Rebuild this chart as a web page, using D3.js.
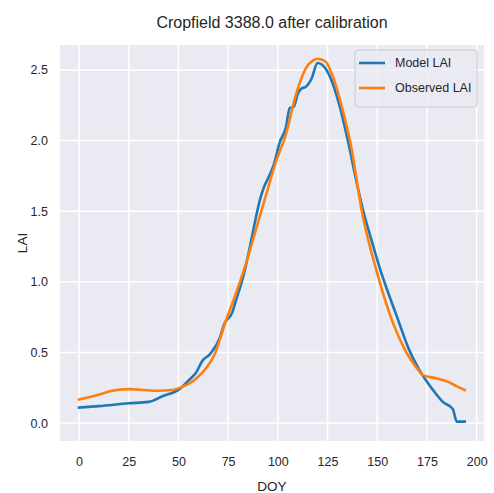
<!DOCTYPE html>
<html>
<head>
<meta charset="utf-8">
<script src="https://cdn.jsdelivr.net/npm/d3@7"></script>
<style>
    body { margin: 0; background: #ffffff; }
    svg text { font-family: "Liberation Sans", Arial, sans-serif; fill: #262626; }
</style>
</head>
<body>
<div id="chart"></div>
<script>
// values
var modelDoy = [0, 10, 25, 35, 42, 51, 55, 59, 62, 66, 71, 73, 77, 79, 83, 86, 88, 91, 93, 95,
                98, 101, 104, 106, 108, 110, 112, 114, 117, 120, 124, 126, 131, 136, 140, 143,
                147, 151, 160, 166, 171, 178, 183, 188, 190, 194];
var modelLai = [0.11, 0.12, 0.14, 0.15, 0.19, 0.245, 0.30, 0.36, 0.44, 0.49, 0.61, 0.70, 0.78, 0.87,
                1.06, 1.25, 1.39, 1.58, 1.67, 1.73, 1.83, 1.99, 2.09, 2.23, 2.24, 2.33, 2.37, 2.38,
                2.44, 2.55, 2.51, 2.46, 2.25, 1.95, 1.68, 1.50, 1.30, 1.11, 0.75, 0.52, 0.38, 0.235,
                0.15, 0.10, 0.01, 0.01];

var obsDoy = [0, 12, 16, 25, 39, 47, 52, 59, 64, 68, 74, 79, 84, 89, 94, 99, 104, 109, 114,
              118, 120, 124, 127, 132, 137, 142, 150, 158, 164, 170, 173, 180, 186, 190, 194];
var obsLai = [0.167, 0.21, 0.227, 0.24, 0.229, 0.234, 0.257, 0.316, 0.39, 0.48, 0.73, 0.92, 1.13,
              1.37, 1.61, 1.85, 2.04, 2.32, 2.51, 2.57, 2.58, 2.56, 2.48, 2.25, 1.95, 1.52, 1.06,
              0.706, 0.517, 0.387, 0.34, 0.316, 0.29, 0.26, 0.234];

var xTicks = [0, 25, 50, 75, 100, 125, 150, 175, 200];
var yTicks = [0.0, 0.5, 1.0, 1.5, 2.0, 2.5];
var seriesNames = ["Model LAI", "Observed LAI"];
var seriesColors = ["#1f77b4", "#ff7f0e"];

function drawChart() {
    var width = 494,
        height = 493,
        margin = {top: 45, right: 10, bottom: 52, left: 60};

    var svg = d3.select("#chart")
                .append("svg")
                .attr("width", width)
                .attr("height", height);

    var x = d3.scaleLinear()
              .domain([-9.56, 203.7])
              .range([margin.left, width - margin.right]);

    var y = d3.scaleLinear()
              .domain([-0.127, 2.677])
              .range([height - margin.bottom, margin.top]);

    // axes background
    svg.append("rect")
       .attr("x", margin.left)
       .attr("y", margin.top)
       .attr("width", width - margin.left - margin.right)
       .attr("height", height - margin.top - margin.bottom)
       .attr("fill", "#eaeaf2");

    // grid
    svg.append("g")
       .selectAll("line")
       .data(xTicks)
       .enter()
       .append("line")
       .attr("x1", function(d) { return x(d); })
       .attr("x2", function(d) { return x(d); })
       .attr("y1", margin.top)
       .attr("y2", height - margin.bottom)
       .attr("stroke", "#ffffff")
       .attr("stroke-width", 1.5);

    svg.append("g")
       .selectAll("line")
       .data(yTicks)
       .enter()
       .append("line")
       .attr("y1", function(d) { return y(d); })
       .attr("y2", function(d) { return y(d); })
       .attr("x1", margin.left)
       .attr("x2", width - margin.right)
       .attr("stroke", "#ffffff")
       .attr("stroke-width", 1.5);

    // axes (labels only, seaborn style)
    var xAxis = svg.append("g")
       .attr("transform", "translate(0," + (height - margin.bottom) + ")")
       .call(d3.axisBottom(x).tickValues(xTicks).tickSize(0).tickPadding(16)
              .tickFormat(d3.format("d")));
    xAxis.select(".domain").remove();

    var yAxis = svg.append("g")
       .attr("transform", "translate(" + margin.left + ",0)")
       .call(d3.axisLeft(y).tickValues(yTicks).tickSize(0).tickPadding(12)
              .tickFormat(d3.format(".1f")));
    yAxis.select(".domain").remove();

    svg.selectAll(".tick text")
       .attr("font-size", 12.5)
       .attr("font-family", "Liberation Sans, Arial, sans-serif")
       .attr("fill", "#262626");

    // lines
    var line = d3.line()
                 .x(function(d) { return x(d[0]); })
                 .y(function(d) { return y(d[1]); })
                 .curve(d3.curveMonotoneX);

    var series = [
        d3.zip(modelDoy, modelLai),
        d3.zip(obsDoy, obsLai)
    ];

    svg.append("g")
       .selectAll("path")
       .data(series)
       .enter()
       .append("path")
       .attr("d", line)
       .attr("fill", "none")
       .attr("stroke", function(d, i) { return seriesColors[i]; })
       .attr("stroke-width", 2.6)
       .attr("stroke-linejoin", "round")
       .attr("stroke-linecap", "square");

    // title and axis labels
    svg.append("text")
       .attr("x", (margin.left + width - margin.right) / 2)
       .attr("y", 28)
       .attr("text-anchor", "middle")
       .attr("font-size", 16)
       .text("Cropfield 3388.0 after calibration");

    svg.append("text")
       .attr("x", (margin.left + width - margin.right) / 2)
       .attr("y", 491)
       .attr("text-anchor", "middle")
       .attr("font-size", 13.5)
       .text("DOY");

    svg.append("text")
       .attr("transform", "translate(27," + ((margin.top + height - margin.bottom) / 2) + ") rotate(-90)")
       .attr("text-anchor", "middle")
       .attr("font-size", 13.5)
       .text("LAI");

    // legend
    var legend = svg.append("g")
                    .attr("transform", "translate(355,50)");

    legend.append("rect")
          .attr("width", 122)
          .attr("height", 57)
          .attr("rx", 3)
          .attr("fill", "#eaeaf2")
          .attr("fill-opacity", 0.8)
          .attr("stroke", "#cccccc")
          .attr("stroke-width", 1);

    var items = legend.selectAll(".item")
                      .data(seriesNames)
                      .enter()
                      .append("g")
                      .attr("class", "item")
                      .attr("transform", function(d, i) { return "translate(0," + (13 + i * 25) + ")"; });

    items.append("line")
         .attr("x1", 4)
         .attr("x2", 30)
         .attr("stroke", function(d, i) { return seriesColors[i]; })
         .attr("stroke-width", 2.6);

    items.append("text")
         .attr("x", 40)
         .attr("dy", "0.35em")
         .attr("font-size", 12.5)
         .text(function(d) { return d; });
}

drawChart();
</script>
</body>
</html>
